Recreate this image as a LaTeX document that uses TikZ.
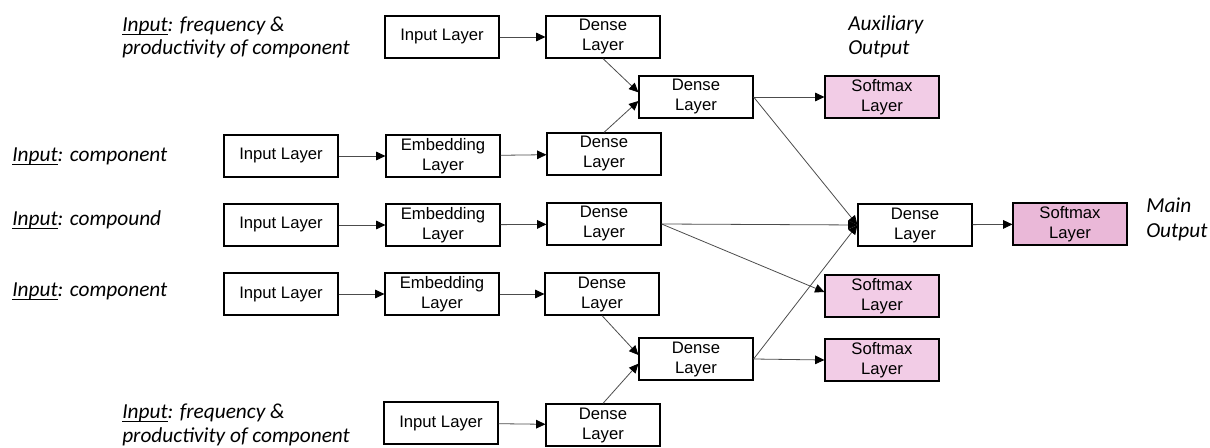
\documentclass[tikz,border=0pt]{standalone}
\usepackage{fontspec}
\setmainfont{Liberation Sans}
\newfontfamily\labelfont{Carlito}
\usetikzlibrary{arrows.meta}
\definecolor{smpink}{RGB}{242,204,230}
\definecolor{smpinkmain}{RGB}{234,184,216}
\newcommand{\inword}{\underline{\smash{Input}}}

\tikzset{
  layer/.style={draw=black, line width=0.9pt, minimum width=85.5pt, minimum height=31.5pt,
    inner sep=1pt, align=center, font=\fontsize{12.5}{15}\selectfont},
  softmax/.style={layer, fill=smpink},
  link/.style={draw=black!70, line width=0.6pt, -{Triangle[length=7pt,width=6.5pt,black]}},
  caption/.style={anchor=base west, inner sep=0pt, font=\labelfont\itshape\fontsize{16}{19}\selectfont}
}

\begin{document}
\begin{tikzpicture}[x=0.75pt, y=-0.75pt]
		%%%%% START %%%%%
		\useasboundingbox (0, 0) rectangle (1210, 448);
		
		% captions
		\node[caption] (capF1) at (122, 32) {\inword: frequency \&};
		\node[caption] (capF2) at (122, 55) {productivity of component};
		\node[caption] (capA) at (12, 162) {\inword: component};
		\node[caption] (capC) at (12, 226) {\inword: compound};
		\node[caption] (capB) at (12, 297) {\inword: component};
		\node[caption] (capG1) at (122, 419) {\inword: frequency \&};
		\node[caption] (capG2) at (122, 443) {productivity of component};
		\node[caption] (capAux1) at (848, 31) {Auxiliary};
		\node[caption] (capAux2) at (848, 55) {Output};
		\node[caption] (capMain1) at (1146, 213) {Main};
		\node[caption] (capMain2) at (1146, 238) {Output};
		
		% layers
		\node[layer] (inF) at (442, 37) {Input Layer};
		\node[layer] (dF) at (603, 37) {Dense\\Layer};
		
		\node[layer] (inA) at (281, 156) {Input Layer};
		\node[layer] (emA) at (443, 156) {Embedding\\Layer};
		\node[layer] (dA) at (604, 154) {Dense\\Layer};
		
		\node[layer] (inC) at (281, 225) {Input Layer};
		\node[layer] (emC) at (443, 225) {Embedding\\Layer};
		\node[layer] (dC) at (604, 224) {Dense\\Layer};
		
		\node[layer] (inB) at (281, 294) {Input Layer};
		\node[layer] (emB) at (442, 294) {Embedding\\Layer};
		\node[layer] (dB) at (602, 294) {Dense\\Layer};
		
		\node[layer] (inG) at (441, 423) {Input Layer};
		\node[layer] (dG) at (603, 425) {Dense\\Layer};
		
		\node[layer] (auxU) at (696, 97) {Dense\\Layer};
		\node[layer] (auxL) at (696, 359) {Dense\\Layer};
		\node[layer] (dMain) at (915, 225) {Dense\\Layer};
		
		\node[softmax] (smU) at (882, 97) {Softmax\\Layer};
		\node[softmax] (smM) at (882, 296) {Softmax\\Layer};
		\node[softmax] (smL) at (882, 360) {Softmax\\Layer};
		\node[softmax, fill=smpinkmain] (smMain) at (1070, 224) {Softmax\\Layer};
		
		% connectors
		\draw[link] (inF) -- (dF);
		\draw[link] (inA) -- (emA);
		\draw[link] (emA) -- (dA);
		\draw[link] (inC) -- (emC);
		\draw[link] (emC) -- (dC);
		\draw[link] (inB) -- (emB);
		\draw[link] (emB) -- (dB);
		\draw[link] (inG) -- (dG);
		
		\draw[link] (dF.south) -- ([yshift=3.5pt]auxU.west);
		\draw[link] (dA.north) -- ([yshift=-3pt]auxU.west);
		\draw[link] (dB.south) -- ([yshift=3pt]auxL.west);
		\draw[link] (dG.north) -- ([yshift=-3.5pt]auxL.west);
		
		\draw[link] (auxU.east) -- (smU.west);
		\draw[link] (auxU.east) -- (dMain.west);
		\draw[link] (dC.east) -- (dMain.west);
		\draw[link] (dC.east) -- ([yshift=3pt]smM.west);
		\draw[link] (auxL.east) -- (dMain.west);
		\draw[link] (auxL.east) -- (smL.west);
		\draw[link] (dMain) -- (smMain);
		%%%%% END %%%%%
\end{tikzpicture}
\end{document}
